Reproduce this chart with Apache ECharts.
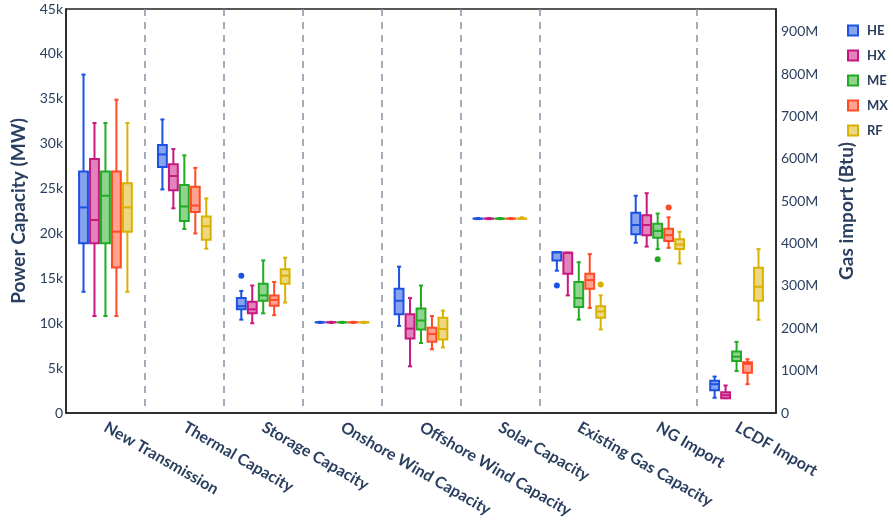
<!DOCTYPE html>
<html>
<head>
<meta charset="utf-8">
<script src="https://cdn.jsdelivr.net/npm/echarts@6/dist/echarts.min.js"></script>
<style>html,body{margin:0;padding:0;background:#fff}#chart{width:893px;height:527px}</style>
</head>
<body>
<div id="chart"></div>
<script>
// ---------------- DATA ----------------
const categories = ['New Transmission','Thermal Capacity','Storage Capacity','Onshore Wind Capacity','Offshore Wind Capacity','Solar Capacity','Existing Gas Capacity','NG Import','LCDF Import'];
const groups = ['HE','HX','ME','MX','RF'];
const gasStart = 7; // categories from this index use the right (Btu) axis

// rows: [min, q1, median, q3, max]; power in MW, gas in Btu
const HE_stats = [
  [13500, 18900, 22900, 26900, 37700],
  [24900, 27400, 28800, 29850, 32700],
  [10400, 11550, 11900, 12800, 13600],
  [10100, 10100, 10100, 10100, 10100],
  [9700, 11000, 12500, 13850, 16300],
  [21650, 21650, 21650, 21650, 21650],
  [15850, 17000, 17900, 17900, 17900],
  [402e6, 422e6, 444e6, 473e6, 513e6],
  [36e6, 54e6, 68e6, 76e6, 86e6]
];
const HX_stats = [
  [10800, 18900, 21500, 28300, 32300],
  [22800, 24800, 26400, 27700, 29400],
  [10000, 11100, 11550, 12400, 14200],
  [10100, 10100, 10100, 10100, 10100],
  [5200, 8300, 9400, 11000, 12800],
  [21650, 21650, 21650, 21650, 21650],
  [13100, 15500, 17850, 17850, 17850],
  [393e6, 420e6, 444e6, 467e6, 519e6],
  [35e6, 35e6, 42e6, 49e6, 65e6]
];
const ME_stats = [
  [10800, 18900, 24200, 26900, 32300],
  [20500, 21400, 23000, 25400, 28700],
  [11100, 12500, 13100, 14400, 17000],
  [10100, 10100, 10100, 10100, 10100],
  [7800, 9300, 10300, 11650, 14200],
  [21650, 21650, 21650, 21650, 21650],
  [10400, 11800, 12800, 14600, 16800],
  [387e6, 414e6, 430e6, 447e6, 471e6],
  [99e6, 123e6, 133e6, 145e6, 168e6]
];
const MX_stats = [
  [10800, 16200, 20200, 26900, 34900],
  [20000, 22400, 23100, 25200, 27300],
  [10900, 11950, 12600, 13100, 14600],
  [10100, 10100, 10100, 10100, 10100],
  [7100, 7950, 8800, 9500, 10800],
  [21650, 21650, 21650, 21650, 21650],
  [11700, 13850, 14800, 15500, 17700],
  [390e6, 406e6, 420e6, 435e6, 462e6],
  [68e6, 95e6, 116e6, 120e6, 127e6]
];
const RF_stats = [
  [13500, 20200, 22900, 25600, 32300],
  [18300, 19300, 20800, 21900, 23900],
  [12300, 14400, 15300, 16000, 17300],
  [10100, 10100, 10100, 10100, 10100],
  [7300, 8200, 9350, 10600, 11400],
  [21650, 21650, 21650, 21650, 21800],
  [9300, 10600, 11300, 11900, 13100],
  [353e6, 387e6, 398e6, 410e6, 428e6],
  [220e6, 265e6, 298e6, 343e6, 387e6]
];
// outliers per category
const HE_outliers = [[], [], [15300], [], [], [], [14200], [], []];
const HX_outliers = [[], [], [], [], [], [], [], [], []];
const ME_outliers = [[], [], [], [], [], [], [], [363e6], []];
const MX_outliers = [[], [], [], [], [], [], [], [485e6], []];
const RF_outliers = [[], [], [], [], [], [], [14300], [], []];

const leftTicks = {min: 0, max: 45000, interval: 5000};
const rightTicks = {min: 0, max: 954e6, interval: 100e6};

// ---------------- STYLE ----------------
const lineColors = ['#1b52e2', '#c8177e', '#22ab22', '#ff4b26', '#d9b200'];
const fillColors = ['#87a3ef', '#e283bd', '#8ed48e', '#ffa28f', '#ecd783'];
const navy = '#2a3f5f';
const FONT = 'Lato, "Open Sans", sans-serif';

const statsByGroup = [HE_stats, HX_stats, ME_stats, MX_stats, RF_stats];
const outliersByGroup = [HE_outliers, HX_outliers, ME_outliers, MX_outliers, RF_outliers];

function makeRender(k) {
  const stroke = lineColors[k], fill = fillColors[k];
  return function (params, api) {
    const cat = api.value(0);
    const band = api.size([1, 0])[0];
    const cx = api.coord([cat, 0])[0] + (k - 2) * band * 0.139;
    const hw = band * 0.056;
    const cap = band * 0.026;
    const y = [1, 2, 3, 4, 5].map(i => api.coord([cat, api.value(i)])[1]);
    const ls = {stroke: stroke, lineWidth: 2, fill: null};
    const flat = Math.abs(y[4] - y[0]) < 0.5;
    const children = [
      {type: 'line', shape: {x1: cx, y1: y[3], x2: cx, y2: y[4]}, style: ls},
      {type: 'line', shape: {x1: cx, y1: y[1], x2: cx, y2: y[0]}, style: ls},
      {type: 'line', shape: {x1: cx - cap, y1: y[4], x2: cx + cap, y2: y[4]}, style: ls},
      {type: 'line', shape: {x1: cx - cap, y1: y[0], x2: cx + cap, y2: y[0]}, style: ls},
      {type: 'rect', shape: {x: cx - hw, y: y[3], width: 2 * hw, height: Math.max(y[1] - y[3], 0.01)},
        style: {stroke: stroke, lineWidth: 2, fill: fill}},
      {type: 'line', shape: {x1: cx - hw, y1: y[2], x2: cx + hw, y2: y[2]}, style: ls}
    ];
    if (flat) {
      children.push({type: 'rect', shape: {x: cx - cap, y: y[2] - 1.5, width: 2 * cap, height: 3},
        style: {fill: stroke, stroke: null}});
    }
    const outs = outliersByGroup[k][cat] || [];
    outs.forEach(v => {
      const p = api.coord([cat, v]);
      children.push({type: 'circle', shape: {cx: cx, cy: p[1], r: 3}, style: {fill: stroke, stroke: null}});
    });
    return {type: 'group', children: children};
  };
}

const series = [];
groups.forEach((g, k) => {
  const stats = statsByGroup[k];
  const power = [], gas = [];
  stats.forEach((row, i) => {
    const item = [i].concat(row);
    (i < gasStart ? power : gas).push(item);
  });
  [[power, 0], [gas, 1]].forEach(([data, yi]) => {
    series.push({
      type: 'custom',
      name: g,
      xAxisIndex: 0,
      yAxisIndex: yi,
      renderItem: makeRender(k),
      itemStyle: {color: fillColors[k], borderColor: lineColors[k], borderWidth: 2},
      encode: {x: 0, y: [1, 2, 3, 4, 5]},
      data: data,
      clip: false
    });
  });
});

const chart = echarts.init(document.getElementById('chart'), null, {renderer: 'canvas'});
chart.setOption({
  animation: false,
  backgroundColor: '#fff',
  textStyle: {fontFamily: FONT},
  grid: {left: 66, right: 117, top: 9, bottom: 114, show: true, borderColor: '#222', borderWidth: 1.5, backgroundColor: 'transparent'},
  legend: {
    orient: 'vertical', left: 842, top: 19,
    itemWidth: 10, itemHeight: 10, itemGap: 12,
    icon: 'rect',
    data: groups,
    textStyle: {color: navy, fontWeight: 'bold', fontSize: 13, fontFamily: FONT, padding: [0, 0, 0, 4]}
  },
  xAxis: [{
    type: 'category',
    data: categories,
    boundaryGap: true,
    axisLine: {show: true, lineStyle: {color: '#222', width: 1.5}},
    axisTick: {show: false},
    axisLabel: {
      rotate: -30, margin: 13, interval: 0,
      color: navy, fontWeight: 'bold', fontSize: 16, fontFamily: FONT
    },
    splitLine: {
      show: true, showMinLine: true, showMaxLine: false,
      interval: function (index) { return index !== 0 && index !== gasStart; },
      lineStyle: {color: '#8893a5', width: 1.5, type: [7, 6]}
    }
  }, {
    type: 'category',
    data: categories,
    boundaryGap: true,
    position: 'bottom',
    axisLine: {show: false}, axisTick: {show: false}, axisLabel: {show: false},
    splitLine: {
      show: true, showMinLine: false, showMaxLine: false,
      interval: function (index) { return index === gasStart; },
      lineStyle: {color: navy, width: 2, type: 'solid'}
    }
  }],
  yAxis: [{
    type: 'value',
    min: leftTicks.min, max: leftTicks.max, interval: leftTicks.interval,
    name: 'Power Capacity (MW)', nameLocation: 'middle', nameGap: 37, nameRotate: 90,
    nameTextStyle: {color: navy, fontWeight: 'bold', fontSize: 19, fontFamily: FONT},
    axisLine: {show: true, lineStyle: {color: '#222', width: 1.5}},
    axisTick: {show: false},
    splitLine: {show: false},
    axisLabel: {
      margin: 3, color: navy, fontSize: 14, fontFamily: FONT,
      formatter: v => v === 0 ? '0' : (v / 1000) + 'k'
    }
  }, {
    type: 'value',
    position: 'right',
    min: rightTicks.min, max: rightTicks.max, interval: rightTicks.interval,
    name: 'Gas import (Btu)', nameLocation: 'middle', nameGap: 61, nameRotate: 90,
    nameTextStyle: {color: navy, fontWeight: 'bold', fontSize: 19, fontFamily: FONT},
    axisLine: {show: true, lineStyle: {color: '#222', width: 1.5}},
    axisTick: {show: false},
    splitLine: {show: false},
    axisLabel: {
      margin: 5, color: navy, fontSize: 14, fontFamily: FONT, showMaxLabel: false,
      formatter: v => v === 0 ? '0' : (v / 1e6) + 'M'
    }
  }],
  series: series
});
</script>
</body>
</html>
